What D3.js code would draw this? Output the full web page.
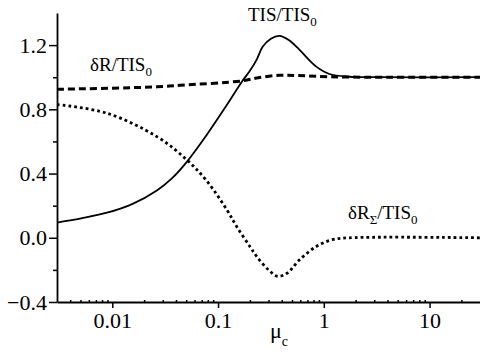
<!DOCTYPE html>
<html>
<head>
<meta charset="utf-8">
<script src="https://cdn.jsdelivr.net/npm/d3@7"></script>
<style>
  body { margin: 0; background: #fff; }
</style>
</head>
<body>
<script>
// curve data (mu_c, value)
var tisMu   = [0.003, 0.0052, 0.0089, 0.0154, 0.0264, 0.0366, 0.0507, 0.078, 0.121, 0.168, 0.20, 0.232, 0.264, 0.316, 0.38, 0.47, 0.59, 0.85, 1.13, 1.75, 3.2, 30];
var tisVal  = [0.095, 0.122, 0.156, 0.21, 0.295, 0.37, 0.473, 0.64, 0.827, 0.972, 1.04, 1.11, 1.19, 1.24, 1.257, 1.23, 1.17, 1.066, 1.02, 1.003, 1.0, 1.0];

var dRMu    = [0.003, 0.0264, 0.0436, 0.168, 0.232, 0.38, 0.59, 1.13, 3.2, 30];
var dRVal   = [0.925, 0.94, 0.95, 0.977, 0.995, 1.012, 1.01, 1.003, 1.0, 1.0];

var dRsMu   = [0.003, 0.0089, 0.0264, 0.0507, 0.078, 0.121, 0.15, 0.20, 0.232, 0.30, 0.366, 0.45, 0.59, 0.85, 1.2, 1.75, 30];
var dRsVal  = [0.83, 0.776, 0.63, 0.485, 0.355, 0.175, 0.07, -0.054, -0.116, -0.20, -0.24, -0.22, -0.137, -0.054, -0.012, 0.0, 0.0];

var xTicks  = [0.01, 0.1, 1, 10];
var xTickLabels = ["0.01", "0.1", "1", "10"];
var yTicks  = [-0.4, 0.0, 0.4, 0.8, 1.2];
var yMinor  = [-0.2, 0.2, 0.6, 1.0];

var FONT = "Liberation Serif";
var width = 480, height = 361;

var svg = d3.select("body").append("svg")
    .attr("width", width)
    .attr("height", height);

var x = d3.scaleLog()
    .domain([0.003, 30])
    .range([57, 480]);

var y = d3.scaleLinear()
    .domain([-0.4, 1.4])
    .range([302, 13]);

// minor x ticks (2..9 per decade), pointing inward
var xMinor = [];
[0.001, 0.01, 0.1, 1, 10].forEach(function (d) {
    for (var k = 2; k <= 9; k++) {
        var v = d * k;
        if (v > 0.003 && v < 30) xMinor.push(v);
    }
});

function toPoints(mu, val) {
    return mu.map(function (m, i) { return [m, val[i]]; });
}

var line = d3.line()
    .x(function (d) { return x(d[0]); })
    .y(function (d) { return y(d[1]); })
    .curve(d3.curveCatmullRom.alpha(0.5));

svg.append("path")
    .datum(toPoints(tisMu, tisVal))
    .attr("d", line)
    .attr("fill", "none")
    .attr("stroke", "#000")
    .attr("stroke-width", 1.8);

svg.append("path")
    .datum(toPoints(dRMu, dRVal))
    .attr("d", line)
    .attr("fill", "none")
    .attr("stroke", "#000")
    .attr("stroke-width", 3)
    .attr("stroke-dasharray", "7,4");

svg.append("path")
    .datum(toPoints(dRsMu, dRsVal))
    .attr("d", line)
    .attr("fill", "none")
    .attr("stroke", "#000")
    .attr("stroke-width", 2.8)
    .attr("stroke-dasharray", "2.8,3");

//===============axes==============
var xAxisCall = d3.axisBottom(x)
    .tickValues(xTicks)
    .tickFormat(function (d, i) { return xTickLabels[i]; })
    .tickSizeInner(6)
    .tickSizeOuter(0)
    .tickPadding(4);

var gx = svg.append("g")
    .attr("class", "x-axis")
    .attr("transform", "translate(0," + y(-0.4) + ")")
    .call(xAxisCall)
    .attr("font-family", FONT)
    .attr("font-size", 22);

gx.selectAll("text")
    .style("font-family", FONT)
    .style("font-size", "22px")
    .attr("fill", "#000");

svg.append("g")
    .attr("transform", "translate(0," + y(-0.4) + ")")
    .call(d3.axisTop(x).tickValues(xMinor).tickFormat("").tickSizeInner(2).tickSizeOuter(0))
    .select(".domain").remove();

var yAxisCall = d3.axisLeft(y)
    .tickValues(yTicks)
    .tickFormat(d3.format(".1f"))
    .tickSizeInner(8)
    .tickSizeOuter(0)
    .tickPadding(2);

var gy = svg.append("g")
    .attr("class", "y-axis")
    .attr("transform", "translate(" + x(0.003) + ",0)")
    .call(yAxisCall)
    .attr("font-family", FONT)
    .attr("font-size", 22);

gy.selectAll("text")
    .style("font-family", FONT)
    .style("font-size", "22px")
    .attr("fill", "#000");

svg.append("g")
    .attr("transform", "translate(" + x(0.003) + ",0)")
    .call(d3.axisLeft(y).tickValues(yMinor).tickFormat("").tickSizeInner(4).tickSizeOuter(0))
    .select(".domain").remove();

svg.selectAll(".domain").attr("stroke-width", 1.8);
svg.selectAll(".tick line").attr("stroke-width", 1.5);

// labels
function label(px, py, main, sub, tail, sub2) {
    var t = svg.append("text")
        .attr("x", px)
        .attr("y", py)
        .style("font-family", FONT)
        .style("font-size", "19px");
    t.append("tspan").text(main);
    if (sub) {
        t.append("tspan").attr("dy", 5).style("font-size", "13px").text(sub);
        t.append("tspan").attr("dy", -5).text(tail);
    }
    t.append("tspan").attr("dy", 5).style("font-size", "13px").text(sub2);
}

label(248, 21, "TIS/TIS", null, null, "0");
label(90, 71, "δR/TIS", null, null, "0");
label(348, 219, "δR", "Σ", "/TIS", "0");

var xl = svg.append("text")
    .attr("x", 270)
    .attr("y", 338)
    .style("font-family", FONT)
    .style("font-size", "22px");
xl.append("tspan").text("μ");
xl.append("tspan").attr("dy", 8).style("font-size", "14px").text("c");
</script>
</body>
</html>
